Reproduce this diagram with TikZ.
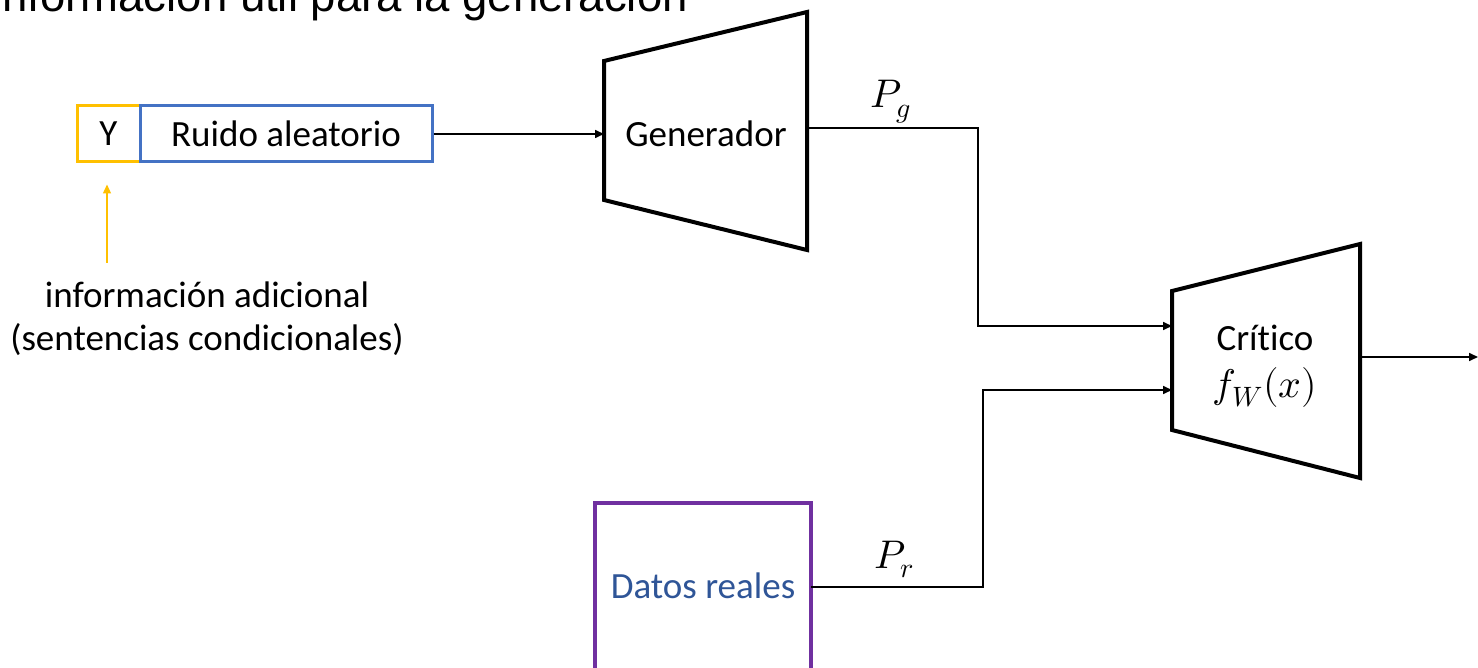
\documentclass[tikz,border=0pt]{standalone}
\usepackage{fontspec}
\usepackage{unicode-math}
\setmainfont{Carlito}[Ligatures=NoCommon]
\setmathfont{Latin Modern Math}
\newfontfamily\titulofont{Liberation Sans}
\usetikzlibrary{arrows.meta}

\definecolor{ocre}{HTML}{FFC000}
\definecolor{azul}{HTML}{4472C4}
\definecolor{morado}{HTML}{7030A0}
\definecolor{azultexto}{HTML}{2F5597}

\tikzset{
  flecha/.style={line width=1.6pt, -{Triangle[length=9pt,width=8pt]}},
  bloque/.style={line width=4pt, line join=miter},
  texto/.style={inner sep=0pt, font=\fontsize{37}{44}\selectfont},
  mate/.style={inner sep=0pt, font=\fontsize{40}{48}\selectfont},
}

\begin{document}
\begin{tikzpicture}[x=1pt, y=-1pt]
    \clip (0,0) rectangle (1478,668);

    % esquinas del generador y del critico
    \coordinate (G1) at (604,61);
    \coordinate (G2) at (807,12);
    \coordinate (G3) at (807,250);
    \coordinate (G4) at (604,200);
    \coordinate (C1) at (1172,291);
    \coordinate (C2) at (1360,244);
    \coordinate (C3) at (1360,478);
    \coordinate (C4) at (1172,430);

    % puntos de entrada y salida
    \coordinate (gen-in) at (604,134);
    \coordinate (gen-out) at (807,128);
    \coordinate (codoG) at (978,128);
    \coordinate (crit-in1) at (1172,326);
    \coordinate (crit-in2) at (1172,390);
    \coordinate (crit-out) at (1360,357);
    \coordinate (fin) at (1478,357);
    \coordinate (datos-out) at (811,587);
    \coordinate (codoR) at (983,587);
    \coordinate (infoTop) at (107,263);

    \node[anchor=base east, inner sep=0pt,
          font=\titulofont\fontsize{45.5}{52}\selectfont] (titulo) at (688,12)
          {información útil para la generación};

    \draw[bloque] (G1) -- (G2) -- (G3) -- (G4) -- cycle;
    \draw[bloque] (C1) -- (C2) -- (C3) -- (C4) -- cycle;
    \draw[bloque, morado] (595,680) |- (811,503) -- (811,680);

    \node[texto] (gen) at (706,134) {Generador};
    \node[texto, anchor=base] (crit) at (1265,350) {Crítico};
    \node[mate, anchor=base] (fw) at (1265,397) {$f_W(x)$};
    \node[texto, anchor=base, text=azultexto] (datos) at (703,598) {Datos reales};

    \node[texto, draw=ocre, line width=3pt, minimum width=63pt, minimum height=56pt]
        (Y) at (108.5,134) {Y};
    \node[texto, draw=azul, line width=3pt, minimum width=292pt, minimum height=56pt]
        (ruido) at (286,134) {Ruido aleatorio};

    \node[texto, anchor=base] (info1) at (207,308) {información adicional};
    \node[texto, anchor=base] (info2) at (207,351) {(sentencias condicionales)};

    \node[mate, anchor=base] (Pg) at (891,108) {$P_g$};
    \node[mate, anchor=base] (Pr) at (894,568) {$P_r$};

    \draw[flecha] (ruido.east) -- (gen-in);
    \draw[flecha] (gen-out) -- (codoG) |- (crit-in1);
    \draw[flecha] (datos-out) -- (codoR) |- (crit-in2);
    \draw[flecha] (crit-out) -- (fin);
    \draw[flecha, ocre, line width=1.4pt, shorten >=21pt] (infoTop) -- (Y.south -| infoTop);
\end{tikzpicture}
\end{document}
